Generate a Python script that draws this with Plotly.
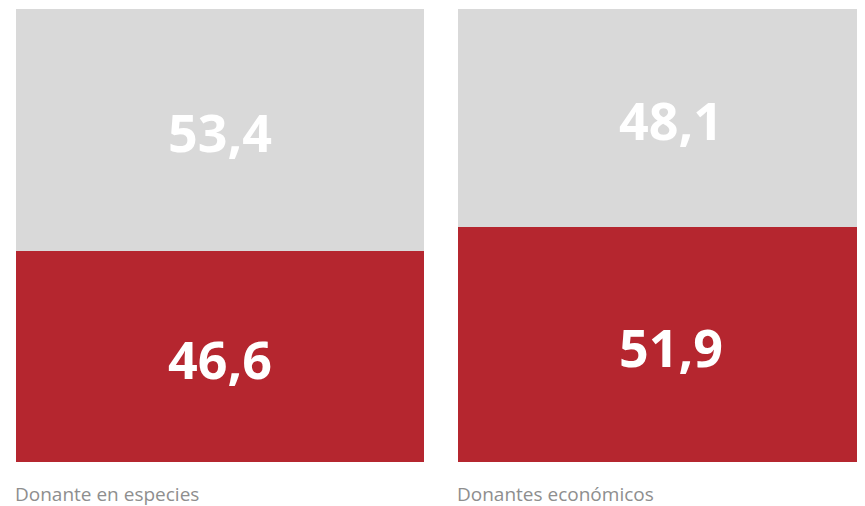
import plotly.graph_objs as go

categories = ['Donante en especies', 'Donantes económicos']
red_values = [46.6, 51.9]
grey_values = [53.4, 48.1]

RED = '#B5262F'
GREY = '#D9D9D9'

x_pos = [0, 1]
# the right bar runs past the page edge in the original, so it is drawn wider
bar_widths = [0.9047, 0.9446]

fig = go.Figure()

# Bottom (red) segment
fig.add_trace(go.Bar(
    x=x_pos,
    y=red_values,
    width=bar_widths,
    marker=dict(color=RED, line=dict(width=0)),
    hoverinfo='skip',
))

# Top (grey) segment
fig.add_trace(go.Bar(
    x=x_pos,
    y=grey_values,
    width=bar_widths,
    marker=dict(color=GREY, line=dict(width=0)),
    hoverinfo='skip',
))

value_font = dict(family='Open Sans', size=52, color='white', weight='bold')

# Value labels centred in each segment
for xi, r, g in zip(x_pos, red_values, grey_values):
    for y_mid, v in ((r / 2, r), (r + g / 2, g)):
        fig.add_annotation(
            x=xi, y=y_mid, xref='x', yref='y',
            text=f'{v:.1f}'.replace('.', ','), showarrow=False,
            xanchor='center', yanchor='middle', yshift=-2,
            font=value_font,
        )

# Category labels under each bar, left-aligned with bar edge
for xi, w, name in zip(x_pos, bar_widths, categories):
    fig.add_annotation(
        x=xi - w / 2, y=0, xref='x', yref='paper',
        text=name, showarrow=False,
        xanchor='left', yanchor='middle', xshift=-3, yshift=-32,
        font=dict(family='Open Sans', size=19, color='#8e8e8e'),
    )

# page has an 8px body margin, so the figure is sized to fit inside it
fig.update_layout(
    barmode='stack',
    width=857,
    height=498,
    showlegend=False,
    paper_bgcolor='white',
    plot_bgcolor='white',
    margin=dict(l=0, r=0, t=1, b=44),
    xaxis=dict(range=[-0.47007, 1.43016], visible=False, fixedrange=True),
    yaxis=dict(range=[0, 100], visible=False, fixedrange=True),
)

fig.write_html('out.html')
